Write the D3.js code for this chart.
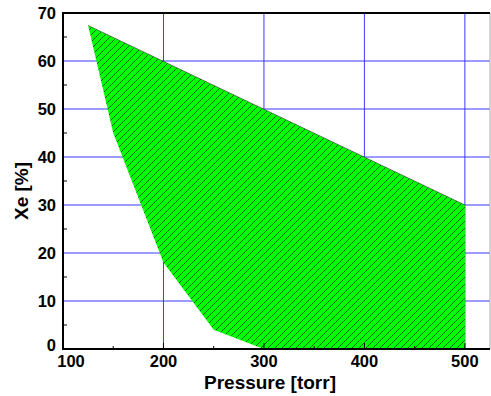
<!DOCTYPE html>
<html>
<head>
<meta charset="utf-8">
<script src="https://cdn.jsdelivr.net/npm/d3@7"></script>
<style>
  body { margin: 0; background: #fff; }
  svg { display: block; font-family: "Liberation Sans", Arial, sans-serif; }
</style>
</head>
<body>
<svg id="chart" width="491" height="396"></svg>
<script>
// boundary of the region (pressure in torr, Xe in %)
const regionPressure = [125, 500, 500, 300, 250, 200, 150];
const regionXe = [67.4, 30, 0, 0, 4, 18, 45];

const xTicks = [100, 200, 300, 400, 500];
const yTicks = [0, 10, 20, 30, 40, 50, 60, 70];
const xMinorTicks = [150, 250, 350, 450];
const yMinorTicks = [5, 15, 25, 35, 45, 55, 65];

const svg = d3.select('#chart');
const plotLeft = 63, plotRight = 490, plotTop = 13, plotBottom = 349;

const x = d3.scaleLinear().domain([100, 525]).range([plotLeft, plotRight]);
const y = d3.scaleLinear().domain([0, 70]).range([plotBottom, plotTop]);

// hatch pattern, "/" lines
const hs = 7;
const defs = svg.append('defs');
const pat = defs.append('pattern')
    .attr('id', 'hatch')
    .attr('patternUnits', 'userSpaceOnUse')
    .attr('width', hs)
    .attr('height', hs);
pat.append('rect').attr('width', hs).attr('height', hs).attr('fill', '#00ff00');
pat.append('path')
    .attr('d', `M0,${hs}L${hs},0M-1,1L1,-1M${hs - 1},${hs + 1}L${hs + 1},${hs - 1}`)
    .attr('stroke', '#000').attr('stroke-width', 0.75).attr('stroke-opacity', 0.8);

// grid
svg.append('g').selectAll('line')
    .data(xTicks.slice(1))
    .enter().append('line')
    .attr('x1', d => x(d)).attr('x2', d => x(d))
    .attr('y1', plotTop).attr('y2', plotBottom)
    .attr('stroke', '#3a3aff').attr('stroke-width', 1);
svg.append('g').selectAll('line')
    .data(yTicks.slice(1, -1))
    .enter().append('line')
    .attr('x1', plotLeft).attr('x2', plotRight)
    .attr('y1', d => y(d)).attr('y2', d => y(d))
    .attr('stroke', '#3a3aff').attr('stroke-width', 1);

// region
const pts = regionPressure.map((p, i) => [x(p), y(regionXe[i])]);
svg.append('path')
    .attr('d', 'M' + pts.join('L') + 'Z')
    .attr('fill', 'url(#hatch)')
    .attr('stroke', 'none');
svg.append('line')
    .attr('x1', pts[0][0]).attr('y1', pts[0][1])
    .attr('x2', pts[1][0]).attr('y2', pts[1][1])
    .attr('stroke', '#333').attr('stroke-width', 0.6);

// ticks (inward)
svg.append('g').selectAll('line')
    .data(xTicks.slice(1))
    .enter().append('line')
    .attr('x1', d => x(d)).attr('x2', d => x(d))
    .attr('y1', plotBottom).attr('y2', plotBottom - 6)
    .attr('stroke', '#000').attr('stroke-width', 1);
svg.append('g').selectAll('line')
    .data(xMinorTicks)
    .enter().append('line')
    .attr('x1', d => x(d)).attr('x2', d => x(d))
    .attr('y1', plotBottom).attr('y2', plotBottom - 3)
    .attr('stroke', '#000').attr('stroke-width', 1);
svg.append('g').selectAll('line')
    .data(yMinorTicks)
    .enter().append('line')
    .attr('x1', plotLeft).attr('x2', plotLeft + 4)
    .attr('y1', d => y(d)).attr('y2', d => y(d))
    .attr('stroke', '#000').attr('stroke-width', 1);

// frame
svg.append('line').attr('x1', plotRight).attr('x2', plotRight).attr('y1', plotTop).attr('y2', plotBottom)
    .attr('stroke', '#aaa').attr('stroke-width', 1);
svg.append('path')
    .attr('d', `M${plotRight},${plotTop}H${plotLeft}V${plotBottom}H${plotRight}`)
    .attr('fill', 'none').attr('stroke', '#000').attr('stroke-width', 2);

// tick labels
svg.append('g').selectAll('text')
    .data(xTicks)
    .enter().append('text')
    .attr('x', d => d === 100 ? x(d) + 8 : x(d)).attr('y', plotBottom + 18)
    .attr('text-anchor', 'middle')
    .style('font-size', '16.5px').style('font-weight', 'bold')
    .text(d => d);
svg.append('g').selectAll('text')
    .data(yTicks)
    .enter().append('text')
    .attr('x', plotLeft - 7).attr('y', d => d === 0 ? y(d) + 2 : y(d) + 5.5)
    .attr('text-anchor', 'end')
    .style('font-size', '16.5px').style('font-weight', 'bold')
    .text(d => d);

// axis titles
svg.append('text')
    .attr('x', 270).attr('y', 389)
    .attr('text-anchor', 'middle')
    .style('font-size', '19px').style('font-weight', 'bold')
    .text('Pressure [torr]');
svg.append('text')
    .attr('transform', `translate(28,191) rotate(-90)`)
    .attr('text-anchor', 'middle')
    .style('font-size', '19px').style('font-weight', 'bold')
    .text('Xe [%]');
</script>
</body>
</html>
